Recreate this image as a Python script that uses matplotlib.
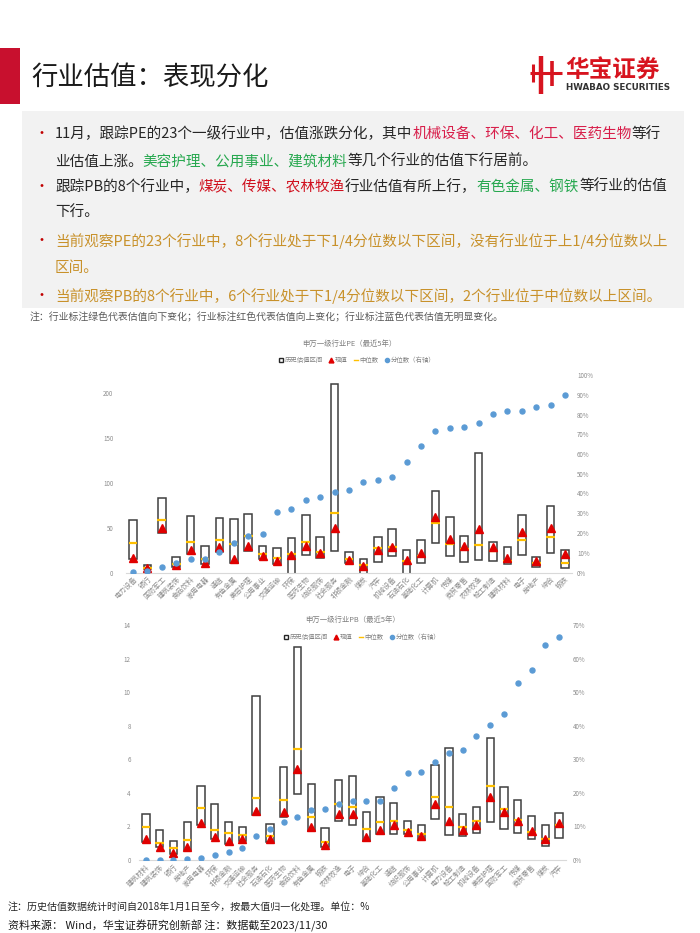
import matplotlib
matplotlib.use('Agg')
import matplotlib.pyplot as plt
from matplotlib.patches import Rectangle, Patch
from matplotlib.lines import Line2D
import numpy as np

plt.rcParams['font.family'] = ['Noto Sans CJK SC', 'DejaVu Sans']

# ---------------- data ----------------
pe_cats = ['电力设备', '银行', '国防军工', '建筑装饰', '食品饮料', '家用电器', '通信', '有色金属',
           '美容护理', '公用事业', '交通运输', '环保', '医药生物', '纺织服饰', '社会服务', '非银金融',
           '煤炭', '汽车', '机械设备', '石油石化', '基础化工', '计算机', '传媒', '商贸零售',
           '农林牧渔', '轻工制造', '建筑材料', '电子', '房地产', '综合', '钢铁']
pe_top = [58, 8, 83.5, 17, 63, 30, 61, 60, 65, 30, 27, 38, 63.5, 39, 210, 23,
          15, 39, 49, 25.6, 36, 91, 62, 40.5, 133, 34, 28, 64, 17.5, 74, 25]
pe_bottom = [15, 4, 44, 6, 21, 10, 23, 11, 24.5, 15, 10, -10, 20, 16, 24, 11,
             -5, 11.5, 18.5, -10, 11, 33, 18, 12, 14, 13, 9, 19, 6, 22, 4.5]
pe_median = [33, 5.5, 59, 9, 34, 15, 36, 32, 41, 21, 16, 21, 34, 23, 66, 15,
             8.5, 27, 28, 13, 18.6, 55, 32, 26, 31, 24, 13, 36, 11, 39, 11]
pe_current = [16, 5, 50, 8, 25, 11, 28, 15, 30, 18.5, 13, 20, 29, 22, 50, 14,
              7, 25, 28, 13.7, 21.5, 62, 37, 29, 49, 28.6, 16, 45, 12.6, 50, 21]
pe_pct = [0.5, 1, 3, 5, 6.8, 7, 10.6, 15, 18.4, 19.4, 30.7, 32, 36.7, 38, 41, 42,
          45.6, 47, 48.6, 56, 64, 71.8, 73.3, 73.8, 75.7, 80, 81.8, 82, 84, 84.6, 90]

pb_cats = ['建筑材料', '建筑装饰', '银行', '房地产', '家用电器', '环保', '非银金融', '交通运输',
           '社会服务', '石油石化', '医药生物', '食品饮料', '有色金属', '钢铁', '农林牧渔', '电子',
           '综合', '基础化工', '通信', '纺织服饰', '公用事业', '计算机', '电力设备', '轻工制造',
           '机械设备', '美容护理', '国防军工', '传媒', '商贸零售', '煤炭', '汽车']
pb_top = [2.72, 1.79, 1.15, 2.28, 4.42, 3.35, 2.28, 1.94, 9.8, 2.12, 5.56, 12.7, 4.52, 1.88, 4.74, 5.02,
          2.88, 3.78, 3.41, 2.35, 2.09, 5.66, 6.65, 2.75, 3.13, 7.25, 4.34, 3.59, 2.63, 2.07, 2.79]
pb_bottom = [1.09, 0.79, 0.34, 0.6, 2.06, 1.27, 0.95, 1.15, 2.68, 1.09, 2.56, 3.91, 1.71, 0.75, 2.34, 2.1,
             1.14, 1.53, 1.55, 1.53, 1.24, 2.45, 1.51, 1.45, 1.61, 2.27, 1.83, 1.63, 1.24, 0.82, 1.31]
pb_median = [1.94, 0.99, 0.71, 1.19, 3.11, 1.77, 1.63, 1.51, 3.67, 1.43, 3.55, 6.59, 2.54, 1.05, 3.35, 3.17,
             1.87, 2.29, 2.33, 1.79, 1.57, 3.78, 3.13, 1.95, 2.35, 4.42, 3.03, 2.37, 1.65, 1.24, 2.11]
pb_current = [1.23, 0.75, 0.44, 0.75, 2.22, 1.39, 1.11, 1.27, 2.92, 1.23, 2.88, 5.42, 1.98, 0.91, 2.74, 2.72,
              1.39, 1.79, 2.09, 1.67, 1.41, 3.35, 2.33, 1.79, 2.11, 3.78, 2.83, 2.35, 1.71, 1.25, 2.21]
pb_pct = [0, 0, 0, 0.2, 0.7, 1.5, 2.3, 3.7, 7.2, 9.3, 11.3, 12.9, 14.9, 15.2, 16.8, 17.5,
          17.5, 17.7, 21.4, 26, 26.2, 29.3, 31.9, 32.9, 36.9, 40.1, 43.6, 52.6, 56.6, 63.9, 66.3]

pe_left_ticks = [0, 50, 100, 150, 200]
pe_right_ticks = [0, 10, 20, 30, 40, 50, 60, 70, 80, 90, 100]
pb_left_ticks = [0, 2, 4, 6, 8, 10, 12, 14]
pb_right_ticks = [0, 10, 20, 30, 40, 50, 60, 70]

legend_labels = ['历史估值区间', '现值', '中位数', '分位数（右轴）']

# ---------------- figure ----------------
W, H = 700, 933
fig = plt.figure(figsize=(W / 100, H / 100), dpi=100)
fig.patch.set_facecolor('white')


def fx(px):
    return px / W


def fy(py):
    return 1 - py / H


# header
fig.patches.append(Rectangle((0, fy(104)), fx(20), (104 - 48) / H, transform=fig.transFigure,
                             facecolor='#c8102e', edgecolor='none'))
fig.text(fx(31), fy(77), '行业估值：表现分化', fontsize=19, color='#1a1a1a', va='center', ha='left')

# logo
logo_red = '#d7141f'
for (x0, y0, x1, y1, lw) in [(541, 56, 541, 94, 3.2), (552, 61, 552, 86, 2.6),
                             (530, 73, 562, 73, 2.2), (533, 64, 533, 82, 2.2)]:
    fig.lines.append(Line2D([fx(x0), fx(x1)], [fy(y0), fy(y1)], transform=fig.transFigure,
                            color=logo_red, lw=lw, solid_capstyle='butt'))
fig.text(fx(565), fy(70), '华宝证券', fontsize=17, fontweight='bold', color=logo_red, va='center', ha='left')
fig.text(fx(566), fy(88), 'HWABAO SECURITIES', fontsize=6.3, fontweight='bold', color='#333333',
         va='center', ha='left', family=['DejaVu Sans'])

# gray box
fig.patches.append(Rectangle((fx(22), fy(308)), fx(684 - 22), (308 - 111) / H, transform=fig.transFigure,
                             facecolor='#f2f2f2', edgecolor='none'))

renderer = fig.canvas.get_renderer()

dark = '#262626'
red1 = '#d81e4a'
red2 = '#d0101e'
green = '#27a84f'
gold = '#c8912a'


def rich(x, y, segs, size=10.5):
    for s, c in segs:
        t = fig.text(fx(x), fy(y), s, color=c, fontsize=size, va='center', ha='left')
        bb = t.get_window_extent(renderer)
        x += bb.width


lines = [
    (134, True, [('11月，跟踪PE的23个一级行业中，估值涨跌分化，其中', dark), ('机械设备、环保、化工、医药生物', red1), ('等行', dark)]),
    (162, False, [('业估值上涨。', dark), ('美容护理、公用事业、建筑材料', green), ('等几个行业的估值下行居前。', dark)]),
    (187, True, [('跟踪PB的8个行业中，', dark), ('煤炭、传媒、农林牧渔', red2), ('行业估值有所上行，', dark),
                 ('有色金属、钢铁', green), ('等行业的估值', dark)]),
    (212, False, [('下行。', dark)]),
    (241, True, [('当前观察PE的23个行业中，8个行业处于下1/4分位数以下区间，没有行业位于上1/4分位数以上', gold)]),
    (268, False, [('区间。', gold)]),
    (296, True, [('当前观察PB的8个行业中，6个行业处于下1/4分位数以下区间，2个行业位于中位数以上区间。', gold)]),
]
for y, bullet, segs in lines:
    if bullet:
        fig.text(fx(35), fy(y), '•', color='#c00000', fontsize=10, va='center', ha='left')
    rich(55, y, segs)

fig.text(fx(30), fy(317), '注：行业标注绿色代表估值向下变化；行业标注红色代表估值向上变化；行业标注蓝色代表估值无明显变化。',
         fontsize=7.1, color='#595959', va='center', ha='left')

# footer
fig.text(fx(8), fy(908), '注：历史估值数据统计时间自2018年1月1日至今，按最大值归一化处理。单位：%',
         fontsize=7.2, color='#262626', va='center', ha='left')
fig.text(fx(8), fy(926), '资料来源： Wind，华宝证券研究创新部 注：数据截至2023/11/30',
         fontsize=7.9, color='#1a1a1a', va='center', ha='left')

# ---------------- charts ----------------
box_edge = '#3f3f3f'
med_col = '#ffc000'
cur_col = '#e00000'
pct_col = '#5b9bd5'
tick_col = '#8c8c8c'


def draw_chart(rect, cats, top, bottom, median, current, pct, lticks, rticks, ymax, rmax,
               lpad, rpad, title, title_xy, legend_xy, lfmt):
    ax = fig.add_axes(rect)
    n = len(cats)
    x = np.arange(n)
    top = np.array(top, float)
    bottom = np.array(bottom, float)
    ax.bar(x, top - bottom, bottom=bottom, width=0.53, facecolor='white', edgecolor=box_edge,
           linewidth=1.1, zorder=2)
    ax.hlines(median, x - 0.31, x + 0.31, colors=med_col, linewidth=1.6, zorder=3)
    ax.plot(x, current, linestyle='none', marker='^', markersize=5.8, color=cur_col, zorder=4)
    ax.set_xlim(-0.5, n - 0.5)
    ax.set_ylim(0, ymax)
    ax.set_yticks(lticks)
    ax.set_yticklabels([lfmt(v) for v in lticks])
    ax.set_xticks(x)
    ax.set_xticklabels(cats, rotation=45, ha='right', rotation_mode='anchor')
    ax.tick_params(axis='x', length=0, labelsize=5, labelcolor=tick_col, pad=2)
    ax.tick_params(axis='y', length=0, labelsize=4.5, labelcolor=tick_col, pad=lpad)
    for s in ['top', 'left', 'right']:
        ax.spines[s].set_visible(False)
    ax.spines['bottom'].set_color('#d9d9d9')
    ax.spines['bottom'].set_linewidth(0.8)
    ax.patch.set_alpha(0)

    ax2 = ax.twinx()
    ax2.plot(x, np.array(pct) / 100.0, linestyle='none', marker='o', markersize=3.6, color=pct_col, zorder=5)
    ax2.set_ylim(0, rmax)
    ax2.set_yticks(np.array(rticks) / 100.0)
    ax2.set_yticklabels(['%d%%' % v for v in rticks])
    ax2.tick_params(axis='y', length=0, labelsize=4.5, labelcolor=tick_col, pad=rpad)
    for s in ax2.spines.values():
        s.set_visible(False)

    fig.text(fx(title_xy[0]), fy(title_xy[1]), title, fontsize=5.3, color='#7f7f7f', ha='center', va='center')
    handles = [Patch(facecolor='white', edgecolor='#262626', linewidth=1.0),
               Line2D([], [], linestyle='none', marker='^', markersize=3.5, color=cur_col),
               Line2D([], [], color=med_col, linewidth=1.0),
               Line2D([], [], linestyle='none', marker='o', markersize=3, color=pct_col)]
    fig.legend(handles, legend_labels, loc='center', bbox_to_anchor=(fx(legend_xy[0]), fy(legend_xy[1])),
               ncol=4, frameon=False, fontsize=4.6, labelcolor='#7f7f7f', handlelength=0.7,
               handleheight=0.7, handletextpad=0.2, columnspacing=1.0, borderpad=0)
    return ax


# chart 1 (PE): x 125.8..572.2 px, y 375..572.5 px
draw_chart([fx(125.8), fy(572.5), (572.2 - 125.8) / W, (572.5 - 375) / H],
           pe_cats, pe_top, pe_bottom, pe_median, pe_current, pe_pct,
           pe_left_ticks, pe_right_ticks, 220, 1.0, 9, 3.5,
           '申万一级行业PE（最近5年）', (349, 344), (357, 360), lambda v: '%d' % v)

# chart 2 (PB): x 139..566 px, y 625..860 px
draw_chart([fx(139), fy(860), (566 - 139) / W, (860 - 625) / H],
           pb_cats, pb_top, pb_bottom, pb_median, pb_current, pb_pct,
           pb_left_ticks, pb_right_ticks, 14, 0.7, 6, 5,
           '申万一级行业PB（最近5年）', (353, 620), (362, 637), lambda v: '%d' % v)

fig.savefig('out.png', dpi=100, facecolor='white')
